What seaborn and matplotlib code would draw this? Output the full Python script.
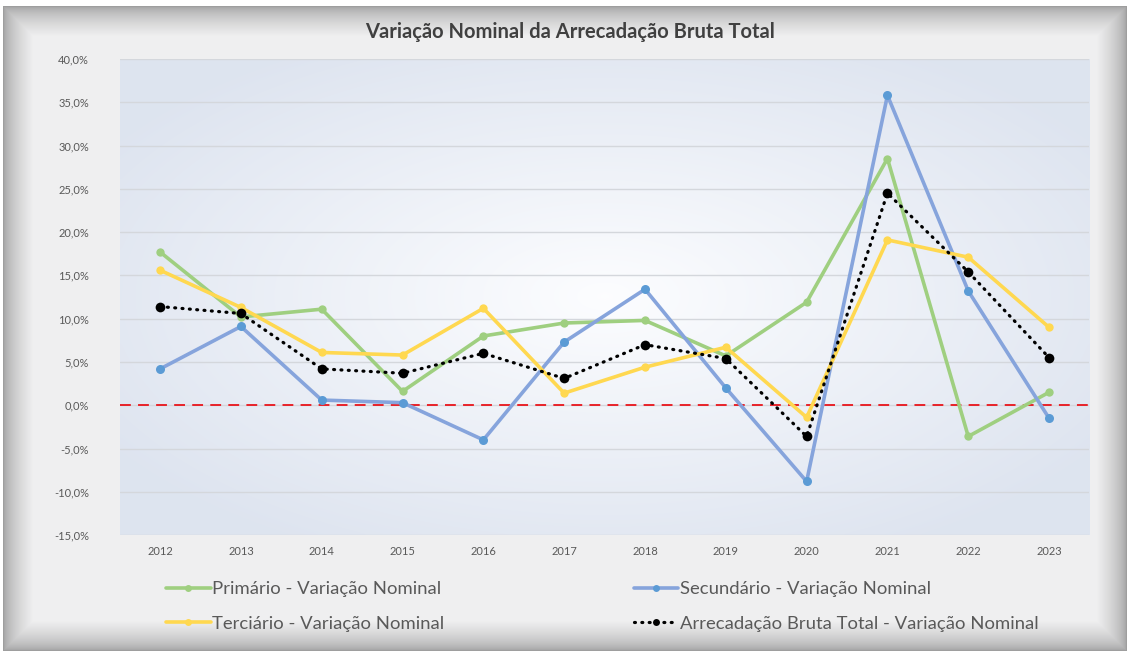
import numpy as np
import pandas as pd
import matplotlib
matplotlib.use('Agg')
import matplotlib.pyplot as plt
import seaborn as sns

# Data (% nominal variation)
years = [2012, 2013, 2014, 2015, 2016, 2017, 2018, 2019, 2020, 2021, 2022, 2023]
primario = [17.7, 10.2, 11.1, 1.6, 8.0, 9.5, 9.8, 5.7, 11.9, 28.5, -3.6, 1.5]
secundario = [4.2, 9.1, 0.6, 0.3, -4.0, 7.3, 13.4, 2.0, -8.8, 35.8, 13.2, -1.5]
terciario = [15.6, 11.3, 6.1, 5.8, 11.2, 1.4, 4.4, 6.7, -1.4, 19.1, 17.1, 9.0]
total = [11.4, 10.6, 4.2, 3.7, 6.0, 3.1, 7.0, 5.4, -3.6, 24.5, 15.4, 5.5]

series_names = ['Primário - Variação Nominal', 'Secundário - Variação Nominal',
                'Terciário - Variação Nominal', 'Arrecadação Bruta Total - Variação Nominal']
yticks = [-15, -10, -5, 0, 5, 10, 15, 20, 25, 30, 35, 40]

df = pd.DataFrame({'Ano': [str(y) for y in years], 'prim': primario, 'sec': secundario,
                   'ter': terciario, 'tot': total})

sns.set_style('white')
plt.rcParams['font.family'] = ['Lato', 'DejaVu Sans']

fig = plt.figure(figsize=(11.29, 6.55), dpi=100)
fig.patch.set_facecolor('white')

# Beveled frame as background
bg = fig.add_axes([0, 0, 1, 1], zorder=-10)
H, W = 655, 1129
yy, xx = np.mgrid[0:H, 0:W]
x0, x1, y0, y1 = 3, 1126, 6, 650
d = np.minimum.reduce([xx - x0, x1 - xx, yy - y0, y1 - yy]).astype(float)
shade = np.clip(d / 30.0, 0, 1) ** 0.6
gray = 0.62 + (0.94 - 0.62) * shade
img = np.dstack([gray, gray, gray + 0.003])
img[d < 0] = 1.0
bg.imshow(np.clip(img, 0, 1), extent=[0, 1, 0, 1], aspect='auto', origin='upper')
bg.axis('off')

ax = fig.add_axes([0.106, 0.183, 0.859, 0.727])

# radial gradient in plot area
gy, gx = np.mgrid[-1:1:200j, -1:1:300j]
r = np.clip(np.sqrt(gx ** 2 + gy ** 2) / 1.2, 0, 1)
c_in = np.array([0.99, 0.993, 1.0])
c_out = np.array([0.87, 0.895, 0.94])
grad = c_in[None, None, :] * (1 - r[..., None]) + c_out[None, None, :] * r[..., None]
ax.imshow(grad, extent=[-0.5, 11.5, -15, 40], aspect='auto', zorder=0, interpolation='bicubic')

for yv in yticks:
    ax.axhline(yv, color='#d4d7dc', lw=1, zorder=1)
ax.axhline(0, color='#e8141b', lw=1.3, ls=(0, (6, 4)), zorder=2)

sns.lineplot(data=df, x='Ano', y='prim', ax=ax, color='#9fcf80', lw=2.6, marker='o',
             markersize=6, markeredgewidth=0, label=series_names[0], zorder=3, sort=False)
sns.lineplot(data=df, x='Ano', y='sec', ax=ax, color='#86a4dc', lw=2.6, marker='o',
             markerfacecolor='#5b9bd5', markersize=6.5, markeredgewidth=0,
             label=series_names[1], zorder=3, sort=False)
sns.lineplot(data=df, x='Ano', y='ter', ax=ax, color='#ffd850', lw=2.6, marker='o',
             markersize=6, markeredgewidth=0, label=series_names[2], zorder=3, sort=False)
sns.lineplot(data=df, x='Ano', y='tot', ax=ax, color='black', lw=2.3, marker='o',
             markersize=7, markeredgewidth=0, label=series_names[3], zorder=4, sort=False)
tot_line = ax.lines[-1]
tot_line.set_linestyle((0, (0.3, 2.0)))
tot_line.set_dash_capstyle('round')

ax.set_xlim(-0.5, 11.5)
ax.set_ylim(-15, 40)
ax.set_yticks(yticks)
ax.set_yticklabels([f'{v:.1f}%'.replace('.', ',') for v in yticks])
ax.tick_params(axis='both', length=0, labelsize=8, labelcolor='#595959')
ax.tick_params(axis='x', pad=8)
ax.tick_params(axis='y', pad=22)
ax.set_xlabel('')
ax.set_ylabel('')
for s in ax.spines.values():
    s.set_visible(False)
ax.set_facecolor('none')

handles, labels = ax.get_legend_handles_labels()
ax.get_legend().remove()
order = [0, 2, 1, 3]
leg = fig.legend([handles[i] for i in order], [labels[i] for i in order], ncol=2,
                 loc='upper left', bbox_to_anchor=(0.1325, 0.138), frameon=False,
                 fontsize=13.3, labelcolor='#595959', columnspacing=10.25, handlelength=2.4,
                 handletextpad=0.1, labelspacing=1.0)
for h in leg.legend_handles:
    h.set_markersize(5)
leg.legend_handles[3].set_linestyle((0, (0.3, 2.0)))
leg.legend_handles[3].set_dash_capstyle('round')

fig.text(0.505, 0.951, 'Variação Nominal da Arrecadação Bruta Total', ha='center', va='center',
         fontsize=14.5, fontweight='bold', color='#404040')

fig.savefig('out.png', dpi=100)
